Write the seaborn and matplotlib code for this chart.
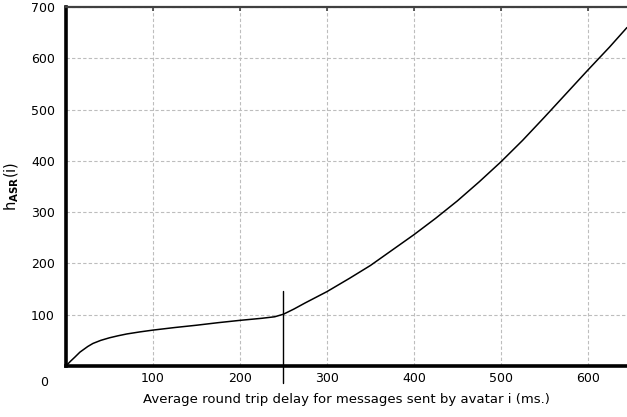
import matplotlib
matplotlib.use("Agg")
import matplotlib.pyplot as plt
import matplotlib.transforms as mtransforms
import seaborn as sns
import pandas as pd

# Average round trip delay (ms) and the resulting h_ASR(i) value
delay_ms = [0, 5, 10, 16, 25, 31, 40, 50, 60, 70, 85, 100, 125, 150, 175,
            200, 225, 240, 250, 262, 275, 300, 326, 350, 375, 400, 425, 450,
            475, 500, 525, 550, 575, 600, 625, 645]
h_asr = [0, 9, 17, 27, 38, 44, 50, 55, 59, 62.5, 66.5, 70, 75, 79.5, 84.5,
         89, 93, 96, 101, 111, 123, 145, 171, 196, 226, 256, 288, 322,
         359, 398, 440, 485, 531, 577, 622, 660]

# Threshold marker drawn as a vertical line
threshold_ms = 250
threshold_top = 147

x_ticks = [100, 200, 300, 400, 500, 600]
y_ticks = [100, 200, 300, 400, 500, 600, 700]

sns.set_theme(style="white")
plt.rcParams["font.family"] = ["DejaVu Sans"]

df = pd.DataFrame({"delay": delay_ms, "h": h_asr})

fig = plt.figure(figsize=(6.27, 4.17), dpi=100)
ax = fig.add_axes([66 / 627, 1 - 366 / 417, 1 - 66 / 627, (366 - 7) / 417])

sns.lineplot(data=df, x="delay", y="h", ax=ax, color="black", linewidth=1.1)

ax.plot([threshold_ms, threshold_ms], [-33, threshold_top], color="black",
        linewidth=1.0, clip_on=False)

ax.set_xlim(0, 645)
ax.set_ylim(0, 700)
ax.set_xticks(x_ticks)
ax.set_yticks(y_ticks)
ax.grid(True, color="#bdbdbd", linestyle=(0, (3, 2)), linewidth=0.8)

for side in ("left", "bottom"):
    ax.spines[side].set_color("black")
    ax.spines[side].set_linewidth(2.6)
ax.spines["top"].set_color("#404040")
ax.spines["top"].set_linewidth(1.6)
ax.spines["right"].set_visible(False)

ax.tick_params(axis="both", which="both", labelsize=9, colors="black",
               length=0)
ax.tick_params(axis="y", pad=8)
ax.tick_params(axis="x", pad=4)
ax.tick_params(axis="x", top=True, direction="in", length=3, width=1.2,
               color="#404040", labeltop=False)

# Shared origin label at the corner
offset = mtransforms.offset_copy(ax.transAxes, fig=fig, x=-16, y=-12,
                                 units="points")
ax.text(0, 0, "0", transform=offset, ha="center", va="center", fontsize=9,
        color="black")

ax.set_xlabel("Average round trip delay for messages sent by avatar i (ms.)",
              fontsize=9.5, color="black", labelpad=6)
ax.set_ylabel(r"h$_{\mathbf{ASR}}$(i)", fontsize=10.5, color="black")
ax.yaxis.label.set_verticalalignment("center")
ax.yaxis.set_label_coords(-0.097, 0.5)

fig.savefig("out.png", dpi=100, facecolor="white")
